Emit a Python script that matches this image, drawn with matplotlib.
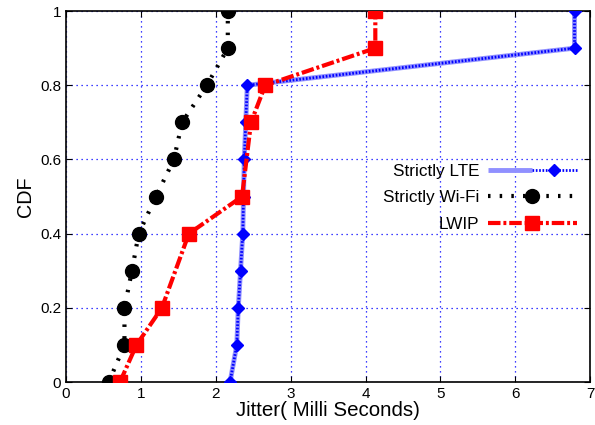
import matplotlib
matplotlib.use("Agg")
import matplotlib.pyplot as plt
from matplotlib.legend_handler import HandlerTuple

plt.rcParams['font.family'] = ['Liberation Sans', 'DejaVu Sans']

lte_x = [2.19, 2.28, 2.30, 2.33, 2.36, 2.37, 2.38, 2.40, 2.42, 6.79, 6.79]
lte_y = [0.0, 0.1, 0.2, 0.3, 0.4, 0.5, 0.6, 0.7, 0.8, 0.9, 1.0]
wifi_x = [0.57, 0.78, 0.78, 0.88, 0.97, 1.20, 1.44, 1.55, 1.88, 2.16, 2.16]
wifi_y = [0.0, 0.1, 0.2, 0.3, 0.4, 0.5, 0.6, 0.7, 0.8, 0.9, 1.0]
lwip_x = [0.72, 0.94, 1.28, 1.64, 2.35, 2.47, 2.66, 4.13, 4.13]
lwip_y = [0.0, 0.1, 0.2, 0.4, 0.5, 0.7, 0.8, 0.9, 1.0]

fig = plt.figure(figsize=(5.95, 4.25), dpi=100)
ax = fig.add_axes([0.111, 0.101, 0.881, 0.873])

ax.grid(True, color='blue', linestyle=(0, (1, 3)), linewidth=0.9)
ax.set_axisbelow(True)

l1a, = ax.plot(lte_x, lte_y, color='#9090ff', lw=3.5, solid_capstyle='butt', zorder=3)
l1b, = ax.plot(lte_x, lte_y, color='blue', lw=2, linestyle=(0, (0.6, 0.6)),
               marker='D', markersize=6, markerfacecolor='blue', markeredgecolor='blue', zorder=4)
l2, = ax.plot(wifi_x, wifi_y, color='black', lw=3, linestyle=(0, (0.6, 2.2)),
              marker='o', markersize=10, zorder=5)
l3, = ax.plot(lwip_x, lwip_y, color='red', lw=3, linestyle=(0, (3, 0.7, 0.7, 0.7)),
              marker='s', markersize=10, zorder=6)

ax.set_xlim(0, 7)
ax.set_ylim(0, 1)
ax.set_xticks(range(0, 8))
ax.set_yticks([0, 0.2, 0.4, 0.6, 0.8, 1])
ax.set_yticklabels(['0', '0.2', '0.4', '0.6', '0.8', '1'])
ax.tick_params(direction='in', labelsize=11, top=True, right=True, length=4)
for s in ax.spines.values():
    s.set_linewidth(1.2)

ax.set_xlabel('Jitter( Milli Seconds)', fontsize=14.8, labelpad=0)
ax.set_ylabel('CDF', fontsize=14.2, labelpad=4)

ax.legend([(l1a, l1b), l2, l3], ['Strictly LTE', 'Strictly Wi-Fi', 'LWIP'],
          handler_map={tuple: HandlerTuple(ndivide=None, pad=0)},
          loc='center right', bbox_to_anchor=(0.987, 0.497), borderaxespad=0,
          frameon=False, markerfirst=False, fontsize=12.3, handlelength=5.2,
          labelspacing=0.68, handletextpad=0.5)

fig.savefig('out.png', dpi=100)
